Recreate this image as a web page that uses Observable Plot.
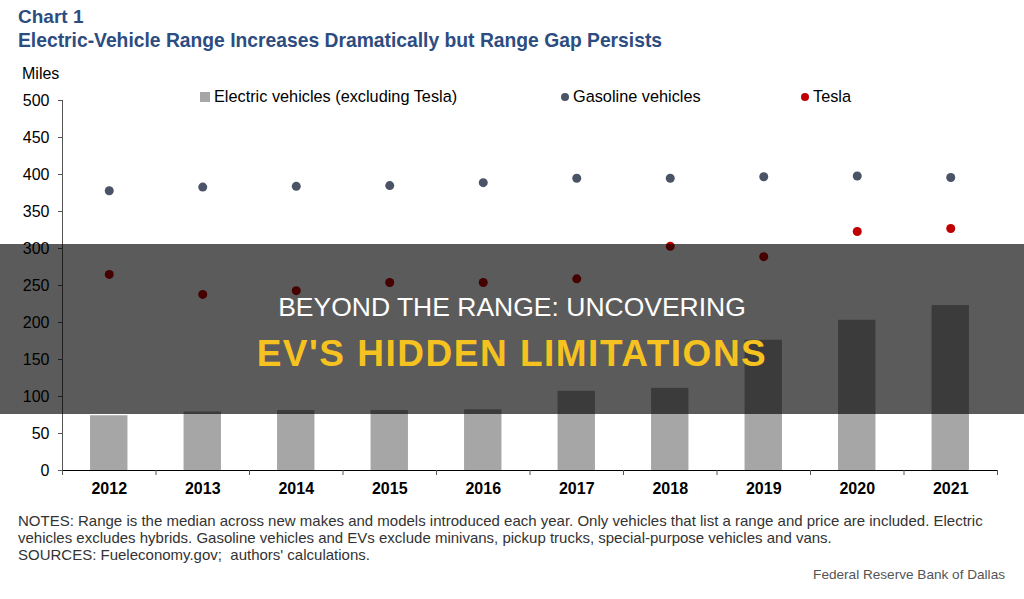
<!DOCTYPE html>
<html><head><meta charset="utf-8">
<script src="https://cdn.jsdelivr.net/npm/d3@7"></script>
<script src="https://cdn.jsdelivr.net/npm/@observablehq/plot@0.6"></script>
<style>
body{margin:0;background:#fff;font-family:"Liberation Sans",Arial,sans-serif;}
#wrap{position:relative;width:1024px;height:599px;overflow:hidden;background:#fff;}
.abs{position:absolute;white-space:nowrap;}
#t1{left:18px;top:6px;font-size:19px;font-weight:bold;color:#2d4c7f;}
#t2{left:18px;top:30px;font-size:19.3px;font-weight:bold;color:#2d4c7f;}
#miles{left:22px;top:65px;font-size:16px;color:#000;}
#chart{position:absolute;left:0;top:56px;}
.leg{top:87px;font-size:16.3px;color:#000;}
.sw{display:inline-block;vertical-align:middle;margin-right:4px;position:relative;top:-1px;}
#notes{left:18px;top:512px;font-size:15px;line-height:17px;color:#333;}
#frb{right:19px;top:567px;font-size:13.6px;color:#555;}
#band{left:0;top:244px;width:1024px;height:170px;background:rgba(0,0,0,0.645);}
#o1{left:0;width:1024px;text-align:center;top:292px;font-family:"Liberation Sans",Arial,sans-serif;font-size:26.5px;color:#fff;}
#o2{left:0;width:1024px;text-align:center;top:333px;font-family:"Liberation Sans",Arial,sans-serif;font-size:37px;font-weight:bold;letter-spacing:1.5px;color:#f5c220;}
</style></head><body>
<div id="wrap">
<div class="abs" id="t1">Chart 1</div>
<div class="abs" id="t2">Electric-Vehicle Range Increases Dramatically but Range Gap Persists</div>
<div class="abs" id="miles">Miles</div>
<div id="chart"></div>
<div class="abs leg" style="left:200px"><span class="sw" style="width:10px;height:10px;background:#a6a6a6"></span>Electric vehicles (excluding Tesla)</div>
<div class="abs leg" style="left:561px"><span class="sw" style="width:8px;height:8px;border-radius:50%;background:#4a5466"></span>Gasoline vehicles</div>
<div class="abs leg" style="left:801px"><span class="sw" style="width:8px;height:8px;border-radius:50%;background:#c00000"></span>Tesla</div>
<div class="abs" id="notes">NOTES: Range is the median across new makes and models introduced each year. Only vehicles that list a range and price are included. Electric<br>vehicles excludes hybrids. Gasoline vehicles and EVs exclude minivans, pickup trucks, special-purpose vehicles and vans.<br>SOURCES: Fueleconomy.gov;&nbsp; authors' calculations.</div>
<div class="abs" id="frb">Federal Reserve Bank of Dallas</div>
<div class="abs" id="band"></div>
<div class="abs" id="o1">BEYOND THE RANGE: UNCOVERING</div>
<div class="abs" id="o2">EV'S HIDDEN LIMITATIONS</div>
</div>
<script>
const years = [2012, 2013, 2014, 2015, 2016, 2017, 2018, 2019, 2020, 2021];
const evRange = [74, 79, 81, 81, 82, 107, 111, 176, 203, 223];
const gasRange = [378, 383, 384, 385, 389, 395, 395, 397, 398, 396];
const teslaRange = [265, 238, 243, 254, 254, 259, 303, 289, 323, 327];
const yTicks = [0, 50, 100, 150, 200, 250, 300, 350, 400, 450, 500];

const rows = years.map((y, i) => ({year: y, ev: evRange[i], gas: gasRange[i], tesla: teslaRange[i]}));
const xLo = years[0] - 0.5, xHi = years[years.length - 1] + 0.5;
const bounds = d3.range(years.length + 1).map(i => xLo + i);
const half = 0.2;

const chart = Plot.plot({
  width: 1024,
  height: 460,
  marginTop: 44,
  marginBottom: 46,
  marginLeft: 62,
  marginRight: 27,
  style: {fontFamily: "'Liberation Sans', Arial, sans-serif", fontSize: "16px", color: "#000", background: "transparent"},
  x: {type: "linear", domain: [xLo, xHi], axis: null},
  y: {domain: [0, 500], axis: null},
  marks: [
    Plot.rectY(rows, {x1: d => d.year - half, x2: d => d.year + half, y: "ev", fill: "#a6a6a6"}),
    Plot.dot(rows, {x: "year", y: "gas", r: 4.5, fill: "#4a5466", stroke: "none"}),
    Plot.dot(rows, {x: "year", y: "tesla", r: 4.5, fill: "#c00000", stroke: "none"}),
    Plot.ruleY([0], {stroke: "#000", strokeWidth: 1}),
    Plot.ruleX([xLo], {stroke: "#555", strokeWidth: 1}),
    Plot.axisY({ticks: yTicks, tickSize: 4, tickPadding: 9, fontSize: 16, label: null, stroke: "#555"}),
    Plot.axisX({ticks: bounds, tickSize: 5, tickFormat: () => "", label: null, stroke: "#555"}),
    Plot.axisX({ticks: years, tickSize: 0, tickPadding: 12, tickFormat: d => String(d), fontSize: 16, fontWeight: "bold", label: null})
  ]
});
document.getElementById("chart").appendChild(chart);
</script>
</body></html>
